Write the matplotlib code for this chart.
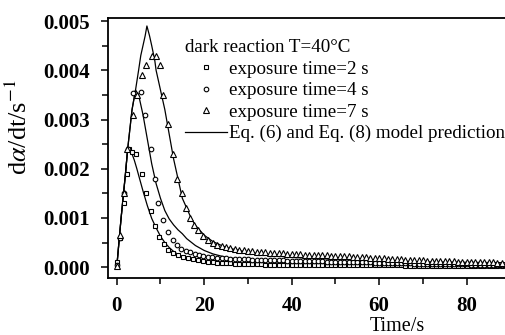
import matplotlib
matplotlib.use("Agg")
import matplotlib.pyplot as plt
from matplotlib.ticker import MultipleLocator, FormatStrFormatter

plt.rcParams['font.family'] = ['Liberation Serif', 'DejaVu Serif']
plt.rcParams['mathtext.fontset'] = 'stix'

# sampling times shared by the tails of all three data sets
tail_t = [23, 24, 25, 26, 27, 28, 29, 30, 31, 32, 33, 34, 35, 36, 37, 38, 39, 40, 41, 42,
          43, 44, 45, 46, 47, 48, 49, 50, 51, 52, 53, 54, 55, 56, 57, 58, 59, 60, 61, 62,
          63, 64, 65, 66, 67, 68, 69, 70, 71, 72, 73, 74, 75, 76, 77, 78, 79, 80, 81, 82,
          83, 84, 85, 86, 87, 88]

# exposure time = 2 s (squares)
sq_t = [0, 0.8, 1.6, 2.4, 2.7, 3.4, 4.5, 5.7, 6.8, 7.8, 8.7, 9.7, 10.8, 11.7, 12.9,
        14.0, 15.2, 16.3, 17.5, 18.6, 19.7, 20.8, 21.9] + tail_t
sq_v = [0.0001, 0.0006, 0.0013, 0.0019, 0.0024, 0.00235, 0.0023, 0.0019, 0.0015, 0.00114,
        0.00084, 0.00062, 0.00047, 0.00035, 0.00028, 0.00024, 0.0002, 0.00018, 0.00016,
        0.00014, 0.00012, 0.00011, 0.0001,
        0.00009, 0.00009, 0.00008, 0.00008, 0.00007, 0.00007, 0.00007, 0.00006, 0.00006, 0.00006,
        0.00006, 0.00005, 0.00005, 0.00005, 0.00005, 0.00005, 0.00005, 0.00005, 0.00005, 0.00005,
        0.00005, 0.00005, 0.00005, 0.00004, 0.00004, 0.00004, 0.00004, 0.00004, 0.00004, 0.00004,
        0.00004, 0.00004, 0.00004, 0.00004, 0.00004, 0.00004, 0.00004, 0.00004, 0.00004, 0.00004,
        0.00004, 0.00004, 0.00004, 0.00003, 0.00003, 0.00003, 0.00003, 0.00003, 0.00003, 0.00003,
        0.00003, 0.00003, 0.00003, 0.00003, 0.00003, 0.00003, 0.00003, 0.00003, 0.00003, 0.00003,
        0.00003, 0.00003, 0.00003, 0.00003, 0.00003, 0.00003]

# exposure time = 4 s (circles)
ci_t = [0, 0.8, 1.7, 2.6, 3.7, 5.5, 6.4, 7.8, 8.7, 9.4, 10.6, 11.7, 12.9, 13.8, 14.8,
        15.8, 16.8, 17.8, 18.8, 19.8, 20.8, 21.8] + tail_t
ci_v = [0.00005, 0.0006, 0.0015, 0.0024, 0.00353, 0.00355, 0.0031, 0.0024, 0.0018, 0.0013,
        0.00096, 0.00071, 0.00055, 0.00045, 0.00038, 0.00033, 0.0003, 0.00027, 0.00025,
        0.00023, 0.00021, 0.0002,
        0.00019, 0.00018, 0.00018, 0.00017, 0.00017, 0.00016, 0.00016, 0.00016, 0.00015, 0.00015,
        0.00015, 0.00015, 0.00014, 0.00014, 0.00014, 0.00014, 0.00013, 0.00013, 0.00013, 0.00013,
        0.00012, 0.00012, 0.00012, 0.00012, 0.00012, 0.00011, 0.00011, 0.00011, 0.00011, 0.00011,
        0.00011, 0.00011, 0.00010, 0.00010, 0.00010, 0.00010, 0.00009, 0.00009, 0.00009, 0.00009,
        0.00008, 0.00008, 0.00008, 0.00008, 0.00008, 0.00007, 0.00007, 0.00007, 0.00007, 0.00007,
        0.00007, 0.00007, 0.00006, 0.00006, 0.00006, 0.00006, 0.00006, 0.00006, 0.00005, 0.00005,
        0.00005, 0.00005, 0.00005, 0.00005, 0.00005, 0.00005]

# exposure time = 7 s (triangles)
tr_t = [0, 0.8, 1.7, 2.4, 3.7, 4.6, 5.8, 6.7, 8.0, 9.0, 9.9, 10.6, 11.8, 12.8, 13.8,
        15.0, 15.9, 16.8, 17.7, 18.6, 19.7, 20.8, 21.9] + tail_t
tr_v = [0.00003, 0.00065, 0.0015, 0.0024, 0.0031, 0.0035, 0.0039, 0.0041, 0.0043, 0.0043,
        0.0041, 0.0035, 0.0029, 0.0023, 0.0018, 0.0015, 0.0012, 0.001, 0.00086, 0.00075,
        0.00063, 0.00056, 0.0005,
        0.00046, 0.00043, 0.00041, 0.00039, 0.00037, 0.00035, 0.00034, 0.00033, 0.00032, 0.00031,
        0.00030, 0.00030, 0.00029, 0.00029, 0.00028, 0.00028, 0.00027, 0.00027, 0.00026, 0.00026,
        0.00025, 0.00025, 0.00025, 0.00024, 0.00024, 0.00024, 0.00023, 0.00023, 0.00023, 0.00022,
        0.00022, 0.00021, 0.00021, 0.00020, 0.00020, 0.00019, 0.00019, 0.00018, 0.00018, 0.00017,
        0.00017, 0.00016, 0.00016, 0.00015, 0.00015, 0.00014, 0.00014, 0.00014, 0.00013, 0.00013,
        0.00013, 0.00012, 0.00012, 0.00012, 0.00012, 0.00011, 0.00011, 0.00011, 0.00011, 0.00010,
        0.00010, 0.00010, 0.00010, 0.00010, 0.00009, 0.00009]

# model prediction curves
m2_t = [0, 0.5, 1, 1.5, 2, 2.5, 3, 3.5, 4, 4.6, 5, 6, 7, 8, 9, 10, 11, 12, 13, 14, 15, 16,
        18, 20, 22, 25, 30, 40, 60, 90]
m2_v = [0, 0.0005, 0.001, 0.00145, 0.0019, 0.0024, 0.00238, 0.0023, 0.00218, 0.002, 0.00187,
        0.00155, 0.00125, 0.00099, 0.0008, 0.00063, 0.0005, 0.0004, 0.00032, 0.00026, 0.00021,
        0.00018, 0.00013, 0.0001, 0.00008, 0.00006, 0.00004, 0.00003, 0.00002, 0.00002]
m4_t = [0, 0.5, 1, 1.5, 2, 2.5, 3, 3.5, 4.3, 5, 6, 7, 8, 9, 10, 11, 12, 13, 14, 15, 16, 18,
        20, 22, 25, 30, 40, 50, 60, 90]
m4_v = [0, 0.0005, 0.001, 0.00145, 0.0019, 0.0024, 0.0028, 0.0032, 0.0036, 0.0035, 0.0031,
        0.0026, 0.0021, 0.0017, 0.0014, 0.00115, 0.00098, 0.00086, 0.00076, 0.00068, 0.00058,
        0.00044, 0.00034, 0.00027, 0.0002, 0.00014, 0.00009, 0.00007, 0.00006, 0.00005]
m7_t = [0, 0.5, 1, 1.5, 2, 2.5, 3, 3.5, 4.3, 5, 5.5, 6, 6.5, 6.9, 7.5, 8, 8.7, 9, 10, 11,
        12, 13, 14, 15, 16, 17, 18, 20, 22, 25, 30, 40, 50, 60, 70, 80, 90]
m7_v = [0, 0.0005, 0.001, 0.00145, 0.0019, 0.0024, 0.0028, 0.0032, 0.0036, 0.004, 0.0043,
        0.0045, 0.0047, 0.0049, 0.0047, 0.0045, 0.0042, 0.004, 0.0036, 0.0032, 0.0027, 0.0022,
        0.0018, 0.0014, 0.0012, 0.001, 0.00085, 0.00065, 0.00052, 0.0004, 0.0003, 0.0002,
        0.00016, 0.00013, 0.00011, 0.0001, 0.00009]

fig = plt.figure(figsize=(5.06, 3.35), dpi=100)
ax = fig.add_axes([0.2134, 0.170, 0.7866, 0.776])

ax.plot(m2_t, m2_v, color='black', lw=0.9)
ax.plot(m4_t, m4_v, color='black', lw=0.9)
line, = ax.plot(m7_t, m7_v, color='black', lw=0.9)

mk = dict(linestyle='none', mfc='white', mec='black', mew=0.8)
h_sq, = ax.plot(sq_t, sq_v, marker='s', ms=3.3, **mk)
h_ci, = ax.plot(ci_t, ci_v, marker='o', ms=3.3, **mk)
h_tr, = ax.plot(tr_t, tr_v, marker='^', ms=4.4, **mk)

ax.set_xlim(-2, 89)
ax.set_ylim(-0.00022, 0.00506)
ax.xaxis.set_major_locator(MultipleLocator(20))
ax.xaxis.set_minor_locator(MultipleLocator(10))
ax.yaxis.set_major_locator(MultipleLocator(0.001))
ax.yaxis.set_minor_locator(MultipleLocator(0.0005))
ax.yaxis.set_major_formatter(FormatStrFormatter('%.3f'))

ax.tick_params(which='major', direction='out', length=5, width=1.1, pad=8)
ax.tick_params(which='minor', direction='out', length=4, width=1.1)
for lab in ax.get_xticklabels() + ax.get_yticklabels():
    lab.set_fontsize(15)
    lab.set_fontweight('bold')
for s in ax.spines.values():
    s.set_linewidth(1.3)

ax.set_xlabel('Time/s', fontsize=14.5)
ax.xaxis.set_label_coords(0.726, -0.148)
ax.get_xaxis().label.set_va('top')
ax.set_ylabel(r'd$\alpha$/dt/s$^{-1}$', fontsize=19)
ax.yaxis.set_label_coords(-0.19, 0.58)

leg = ax.legend([h_sq, h_ci, h_tr, line],
                ['exposure time=2 s', 'exposure time=4 s', 'exposure time=7 s',
                 'Eq. (6) and Eq. (8) model prediction'],
                title='dark reaction T=40\u00b0C', alignment='left',
                loc='upper left', bbox_to_anchor=(0.193, 0.918),
                frameon=False, fontsize=13.7, title_fontsize=13.7,
                handlelength=2.2, handletextpad=0.1, labelspacing=0.22,
                borderpad=0, borderaxespad=0)

fig.savefig('out.png', dpi=100)
